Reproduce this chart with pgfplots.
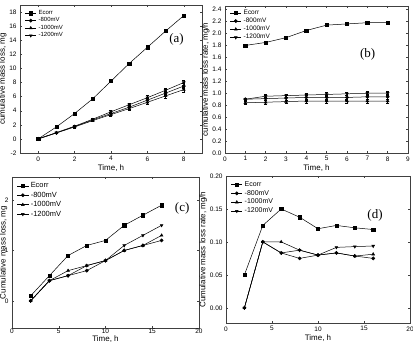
\documentclass[border=0pt]{standalone}
\usepackage{pgfplots}
\pgfplotsset{compat=1.18}
\usepackage{fontspec}
\setmainfont{Liberation Sans}
\newfontfamily\panelfont{Liberation Serif}

\pgfplotsset{
  panel/.style={
    scale only axis,
    axis line style={black!75, line width=0.5pt},
    tick style={black!75, line width=0.4pt},
    major tick length=2bp,
    minor tick length=0pt,
    /pgf/number format/assume math mode=true,
    tick label style={font=\fontsize{6.5}{7}\selectfont},
    label style={font=\fontsize{8}{9}\selectfont},
    legend cell align=left,
    legend image code/.code={\draw[mark repeat=2,mark phase=2] plot coordinates {(0cm,0cm) (0.2cm,0cm) (0.4cm,0cm)};},
    xlabel={Time, h},
    clip=false,
  },
  base/.style={black, line width=0.5pt, mark size=1.6bp, mark options={solid, fill=black}},
  sq/.style={base, mark=square*},
  ci/.style={base, mark=*},
  tu/.style={base, mark=triangle*},
  td/.style={base, mark=triangle*, mark options={rotate=180}},
  eb/.style={error bars/.cd, y dir=both, y explicit, error bar style={black, line width=0.5pt}, error mark options={black, rotate=90, mark size=1.5bp, line width=0.5pt}},
}

\begin{document}
\begin{tikzpicture}
\useasboundingbox (0,0) rectangle (413bp,342bp);

% (a) cumulative mass loss at constant potential
\begin{axis}[panel,
  at={(20bp,189bp)}, anchor=south west, width=182bp, height=148bp,
  xmin=-1, xmax=9, ymin=-2, ymax=19,
  xtick={0,2,4,6,8}, ytick={-2,0,...,18},
  ylabel={cumulative mass loss, mg},
  ylabel style={yshift=-4bp},
  xlabel style={yshift=3bp},
  legend style={draw=none, fill=none, at={(0.02,0.985)}, anchor=north west,
    font=\fontsize{6}{6.5}\selectfont, row sep=-2.2pt, inner sep=1pt},
]
\addplot[sq] coordinates {(0,0) (1,1.7) (2,3.6) (3,5.7) (4,8.2) (5,10.7) (6,13.0) (7,15.3) (8,17.5)};
\addplot[ci, eb] coordinates {(0,0) +- (0,0.1) (1,0.85) +- (0,0.1) (2,1.75) +- (0,0.12) (3,2.7) +- (0,0.15) (4,3.6) +- (0,0.2) (5,4.5) +- (0,0.25) (6,5.5) +- (0,0.3) (7,6.5) +- (0,0.3) (8,7.5) +- (0,0.35)};
\addplot[tu, eb] coordinates {(0,0) +- (0,0.1) (1,0.85) +- (0,0.1) (2,1.7) +- (0,0.12) (3,2.6) +- (0,0.15) (4,3.45) +- (0,0.2) (5,4.3) +- (0,0.25) (6,5.2) +- (0,0.3) (7,6.1) +- (0,0.3) (8,7.0) +- (0,0.35)};
\addplot[td, eb] coordinates {(0,0) +- (0,0.1) (1,0.9) +- (0,0.1) (2,1.8) +- (0,0.12) (3,2.8) +- (0,0.15) (4,3.85) +- (0,0.2) (5,4.85) +- (0,0.25) (6,5.85) +- (0,0.3) (7,6.9) +- (0,0.3) (8,8.0) +- (0,0.35)};
\legend{Ecorr,-800mV,-1000mV,-1200mV}
\node[font=\panelfont\fontsize{13}{14}\selectfont] at (rel axis cs:0.86,0.77) {(a)};
\end{axis}

% (b) cumulative mass loss rate at constant potential
\begin{axis}[panel,
  at={(225bp,189bp)}, anchor=south west, width=183bp, height=147bp,
  xmin=0, xmax=9, ymin=0, ymax=2.46,
  xtick={0,1,...,9}, ytick={0,0.2,...,2.41},
  yticklabel style={/pgf/number format/.cd, fixed, fixed zerofill, precision=1},
  ylabel={cumulative mass loss rate, mg/h},
  ylabel style={yshift=-4bp},
  xlabel style={yshift=3bp},
  legend style={draw=none, fill=none, at={(0.02,0.995)}, anchor=north west,
    font=\fontsize{6.5}{7}\selectfont, row sep=-1.8pt, inner sep=1pt},
]
\addplot[sq] coordinates {(1,1.8) (2,1.85) (3,1.93) (4,2.05) (5,2.14) (6,2.16) (7,2.18) (8,2.18)};
\addplot[ci, eb] coordinates {(1,0.9) +- (0,0.02) (2,0.91) +- (0,0.03) (3,0.92) +- (0,0.04) (4,0.93) +- (0,0.04) (5,0.93) +- (0,0.04) (6,0.93) +- (0,0.04) (7,0.94) +- (0,0.04) (8,0.94) +- (0,0.04)};
\addplot[tu, eb] coordinates {(1,0.84) +- (0,0.02) (2,0.85) +- (0,0.03) (3,0.86) +- (0,0.03) (4,0.87) +- (0,0.03) (5,0.87) +- (0,0.03) (6,0.87) +- (0,0.03) (7,0.87) +- (0,0.03) (8,0.87) +- (0,0.03)};
\addplot[td, eb] coordinates {(1,0.9) +- (0,0.02) (2,0.95) +- (0,0.03) (3,0.96) +- (0,0.03) (4,0.97) +- (0,0.03) (5,0.98) +- (0,0.03) (6,0.99) +- (0,0.03) (7,1.0) +- (0,0.03) (8,1.0) +- (0,0.03)};
\legend{Ecorr,-800mV,-1000mV,-1200mV}
\node[font=\panelfont\fontsize{13}{14}\selectfont] at (rel axis cs:0.78,0.67) {(b)};
\end{axis}

% (c) cumulative mass loss, immersion series
\begin{axis}[panel,
  at={(12bp,14bp)}, anchor=south west, width=187bp, height=151bp,
  xmin=0, xmax=20, ymin=-0.54, ymax=2.46,
  xtick={0,5,10,15,20}, ytick={0,1,2},
  xticklabel style={yshift=2.5bp},
  ylabel={Cumulative mass loss, mg},
  ylabel style={at={(axis description cs:-0.045,0.5)}, anchor=center},
  xlabel style={at={(axis description cs:0.5,0)}, anchor=base, yshift=-13.5bp},
  legend style={draw=none, fill=none, at={(0.02,0.985)}, anchor=north west,
    font=\fontsize{7.5}{8}\selectfont, row sep=-1.2pt, inner sep=1pt},
]
\addplot[sq] coordinates {(2,0.1) (4,0.5) (6,0.9) (8,1.1) (10,1.2) (12,1.5) (14,1.7) (16,1.9)};
\addplot[ci] coordinates {(2,0) (4,0.4) (6,0.5) (8,0.6) (10,0.8) (12,1.0) (14,1.1) (16,1.2)};
\addplot[tu] coordinates {(2,0) (4,0.4) (6,0.6) (8,0.7) (10,0.8) (12,1.0) (14,1.1) (16,1.3)};
\addplot[td] coordinates {(2,0) (4,0.4) (6,0.5) (8,0.7) (10,0.8) (12,1.1) (14,1.3) (16,1.5)};
\legend{Ecorr,-800mV,-1000mV,-1200mV}
\node[font=\panelfont\fontsize{13}{14}\selectfont] at (rel axis cs:0.91,0.79) {(c)};
\end{axis}

% (d) cumulative mass loss rate, immersion series
\begin{axis}[panel,
  at={(226bp,19bp)}, anchor=south west, width=184bp, height=147bp,
  xmin=0, xmax=20, ymin=-0.023, ymax=0.2,
  xtick={0,5,10,15,20}, ytick={0,0.05,...,0.201},
  yticklabel style={/pgf/number format/.cd, fixed, fixed zerofill, precision=2},
  ylabel={Cumulative mass loss rate, mg/h},
  ylabel style={yshift=-4bp},
  xlabel style={yshift=3bp},
  legend style={draw=none, fill=none, at={(0.02,0.985)}, anchor=north west,
    font=\fontsize{7}{7.5}\selectfont, row sep=-1.5pt, inner sep=1pt},
]
\addplot[sq] coordinates {(2,0.05) (4,0.125) (6,0.15) (8,0.1375) (10,0.12) (12,0.125) (14,0.1214) (16,0.1188)};
\addplot[ci] coordinates {(2,0) (4,0.1) (6,0.0833) (8,0.075) (10,0.08) (12,0.0833) (14,0.0786) (16,0.075)};
\addplot[tu] coordinates {(2,0) (4,0.1) (6,0.1) (8,0.0875) (10,0.08) (12,0.0833) (14,0.0786) (16,0.0813)};
\addplot[td] coordinates {(2,0) (4,0.1) (6,0.0833) (8,0.0875) (10,0.08) (12,0.0917) (14,0.0929) (16,0.0938)};
\legend{Ecorr,-800mV,-1000mV,-1200mV}
\node[font=\panelfont\fontsize{13}{14}\selectfont] at (rel axis cs:0.81,0.73) {(d)};
\end{axis}
\end{tikzpicture}
\end{document}
